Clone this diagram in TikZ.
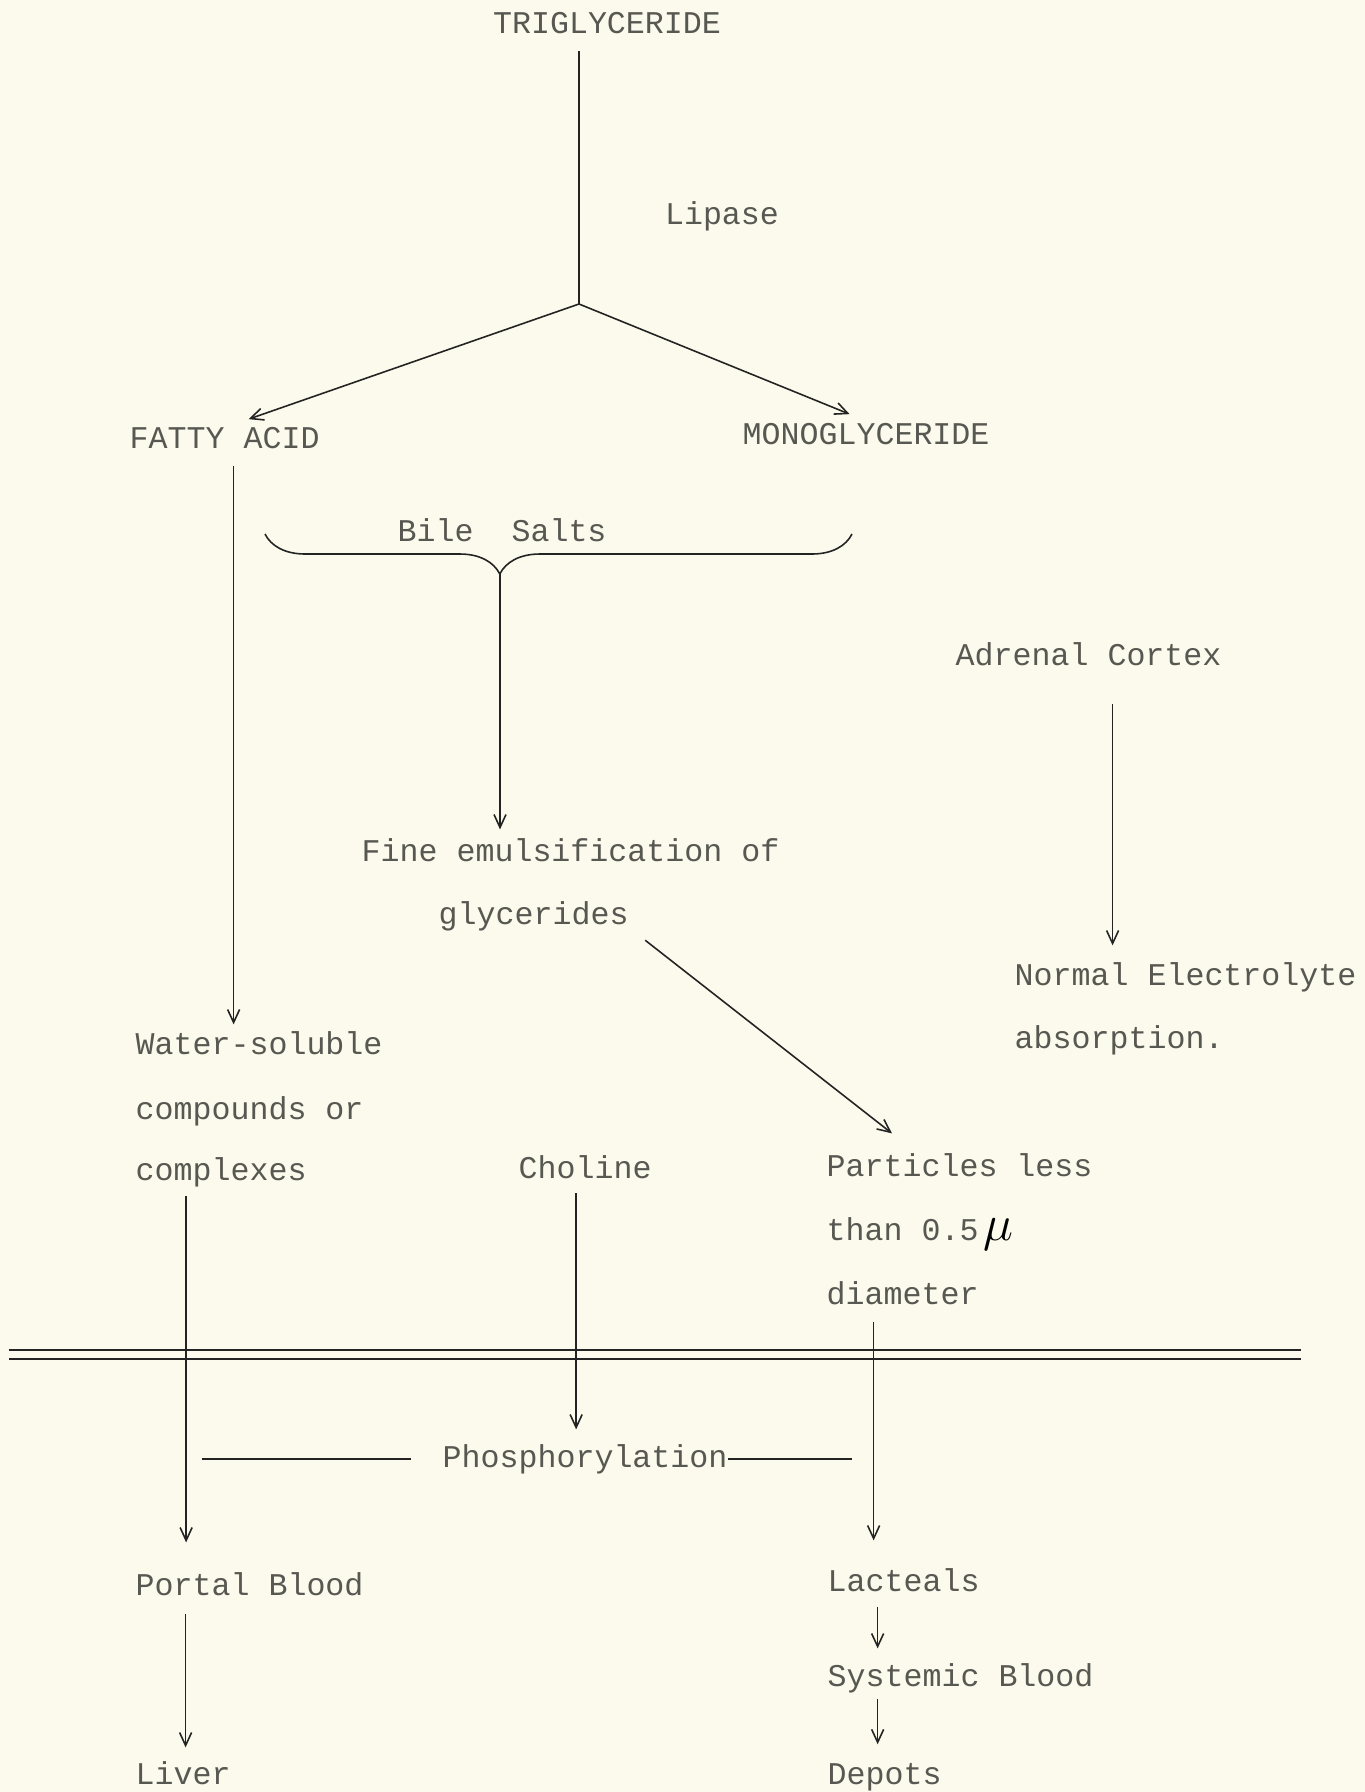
\documentclass[tikz,border=0pt]{standalone}
\usepackage{fontspec}
\usepackage{xcolor}
\usepackage{tikz}
\usetikzlibrary{arrows.meta,decorations.pathreplacing}

\newfontfamily\typefont{Liberation Mono}
\definecolor{paper}{RGB}{251,250,236}
\definecolor{ink}{RGB}{88,88,82}
\definecolor{pen}{RGB}{35,35,35}

\begin{document}
\begin{tikzpicture}[>={Straight Barb[length=1.3mm,width=1.2mm]}]
      \tikzset{txt/.style={font=\typefont\fontsize{9pt}{11pt}\selectfont,text=ink,inner sep=0pt,anchor=base west}}
      \tikzset{flow/.style={->,draw=pen,line width=0.45pt}}
      \tikzset{plain/.style={draw=pen,line width=0.45pt}}

      \fill[paper] (0,0) rectangle (13.65,-17.92);
      \useasboundingbox (0,0) rectangle (13.65,-17.92);

      \node[txt,anchor=base] (tri) at (6.07,-0.33) {TRIGLYCERIDE};
      \node[txt,anchor=base] (lipase) at (7.22,-2.24) {Lipase};
      \coordinate (split) at (5.79,-3.04);

      \node[txt] (fa) at (1.29,-4.48) {FATTY ACID};
      \node[txt] (mono) at (7.42,-4.44) {MONOGLYCERIDE};

      \node[txt] (bile) at (3.97,-5.41) {Bile\ \ Salts};
      \coordinate (bileTip) at (5.00,-5.74);

      \node[txt] (adr) at (9.55,-6.65) {Adrenal Cortex};
      \node[txt] (emul) at (3.61,-8.61) {Fine emulsification of};
      \node[txt] (gly) at ([xshift=0.77cm,yshift=-0.63cm]emul.base west) {glycerides};

      \node[txt] (norm) at (10.14,-9.85) {Normal Electrolyte};
      \node[txt] (absn) at ([yshift=-0.63cm]norm.base west) {absorption.};

      \node[txt] (ws) at (1.35,-10.54) {Water-soluble};
      \node[txt] (cmp) at ([yshift=-0.65cm]ws.base west) {compounds or};
      \node[txt] (cx) at ([yshift=-0.61cm]cmp.base west) {complexes};

      \node[txt] (chol) at (5.18,-11.78) {Choline};

      \node[txt] (part) at (8.26,-11.76) {Particles less};
      \node[txt] (than) at ([yshift=-0.64cm]part.base west) {than 0.5\,{\color{black}\Large$\mu$}};
      \node[txt] (dia) at ([yshift=-0.64cm]than.base west) {diameter};

      \node[txt] (phos) at (4.42,-14.67) {Phosphorylation};

      \node[txt] (portal) at (1.35,-15.95) {Portal Blood};
      \node[txt] (liver) at (1.35,-17.84) {Liver};

      \node[txt] (lact) at (8.27,-15.91) {Lacteals};
      \node[txt] (sys) at ([yshift=-0.95cm]lact.base west) {Systemic Blood};
      \node[txt] (dep) at ([yshift=-0.98cm]sys.base west) {Depots};

      \draw[plain,shorten <=1.7mm] (split |- tri.south) -- (split);
      \draw[flow] (split) -- ([xshift=2.4mm,yshift=0.7mm]fa.north);
      \draw[flow] (split) -- ([xshift=-1.65mm,yshift=0.8mm]mono.north);

      \draw[flow,shorten <=1.7mm,shorten >=0.6mm] ([xshift=0.9mm]fa.south) -- ([xshift=0.9mm]fa.south |- ws.north);

      \draw[plain,decorate,decoration={brace,amplitude=4mm,aspect=0.6}] (8.52,-5.34) -- (2.65,-5.34);
      \draw[flow,shorten >=0.8mm] (bileTip) -- (bileTip |- emul.north);

      \draw[flow,shorten <=3.8mm,shorten >=1.6mm] ([xshift=2.4mm]adr.south) -- ([xshift=2.4mm]adr.south |- norm.north);
      \draw[flow] ([xshift=1.6mm,yshift=-0.9mm]gly.south east) -- ([xshift=6.6mm,yshift=1.9mm]part.north west);

      \draw[plain] (0.09,-13.50) -- (13.01,-13.50);
      \draw[plain] (0.09,-13.59) -- (13.01,-13.59);

      \draw[flow,shorten <=0.9mm,shorten >=2.9mm] ([xshift=-3.5mm]cx.south) -- ([xshift=-3.5mm]cx.south |- portal.north);
      \draw[flow,shorten <=1.4mm,shorten >=1.4mm] ([xshift=-0.9mm]chol.south) -- ([xshift=-0.9mm]chol.south |- phos.north);
      \draw[flow,shorten <=1.7mm,shorten >=2.7mm] ([xshift=-2.9mm]dia.south) -- ([xshift=-2.9mm]dia.south |- lact.north);

      \draw[plain] ([xshift=-3.1mm]phos.west) -- ([xshift=-24mm]phos.west);
      \draw[plain] (phos.east) -- ([xshift=12.4mm]phos.east);

      \draw[flow,shorten <=1.8mm,shorten >=1.3mm] ([xshift=-6.4mm]portal.south) -- ([xshift=-6.4mm]portal.south |- liver.north);
      \draw[flow,shorten <=1.5mm,shorten >=1.4mm] ([xshift=-2.6mm]lact.south) -- ([xshift=-2.6mm]lact.south |- sys.north);
      \draw[flow,shorten <=0.6mm,shorten >=1.8mm] ([xshift=-0.7mm]dep.north |- sys.south) -- ([xshift=-0.7mm]dep.north);

    \end{tikzpicture}
\end{document}
